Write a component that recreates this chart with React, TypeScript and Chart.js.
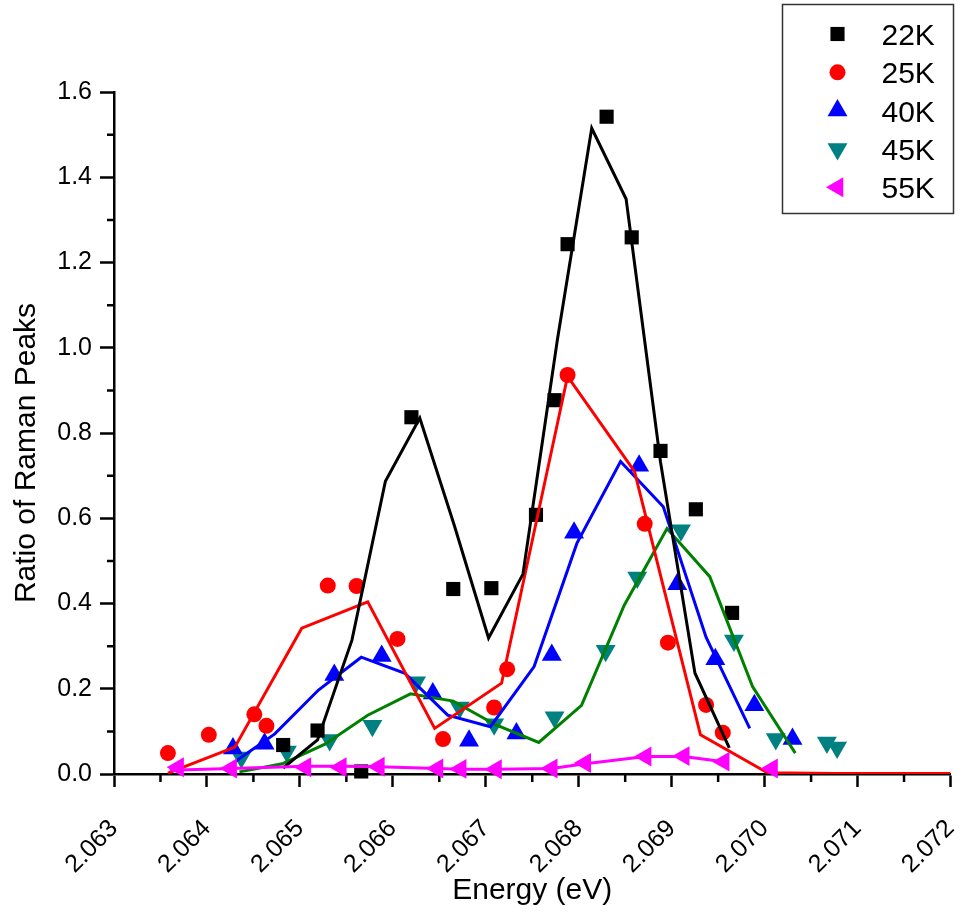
import React, { useEffect, useRef } from 'react';
import { Chart, registerables } from 'chart.js';

Chart.register(...registerables);

const FONT = '"Liberation Sans", Arial, Helvetica, sans-serif';

const seriesLabels = ['22K', '25K', '40K', '45K', '55K'];

// 22K
const x22 = [2.06482, 2.06519, 2.06566, 2.0662, 2.06665, 2.06706, 2.06754, 2.06774, 2.06788, 2.0683, 2.06857, 2.06888, 2.06926, 2.06965];
const y22 = [0.068, 0.102, 0.006, 0.837, 0.434, 0.436, 0.608, 0.877, 1.243, 1.542, 1.259, 0.758, 0.621, 0.378];
const fitX22 = [2.06482, 2.06519, 2.06556, 2.06592, 2.06629, 2.06666, 2.06703, 2.0674, 2.06777, 2.06814, 2.06851, 2.06888, 2.06925, 2.06962];
const fitY22 = [0.014, 0.08, 0.314, 0.687, 0.835, 0.584, 0.319, 0.469, 1.018, 1.515, 1.349, 0.732, 0.237, 0.061];

// 25K
const x25 = [2.06358, 2.06402, 2.06451, 2.06464, 2.0653, 2.06561, 2.06605, 2.06654, 2.06709, 2.06723, 2.06788, 2.06871, 2.06896, 2.06937, 2.06955];
const y25 = [0.049, 0.092, 0.14, 0.113, 0.442, 0.441, 0.317, 0.082, 0.156, 0.246, 0.936, 0.587, 0.308, 0.162, 0.097];
const fitX25 = [2.06358, 2.0643, 2.06502, 2.06573, 2.06645, 2.06717, 2.06788, 2.0686, 2.06931, 2.07003, 2.07075, 2.07146, 2.072];
const fitY25 = [0.002, 0.063, 0.342, 0.404, 0.107, 0.213, 0.933, 0.71, 0.092, 0.003, 0.001, 0.001, 0.001];

// 40K
const x40 = [2.06428, 2.06462, 2.06537, 2.06588, 2.06643, 2.06682, 2.06733, 2.06771, 2.06795, 2.06865, 2.06906, 2.06947, 2.06989, 2.0703];
const y40 = [0.06, 0.071, 0.232, 0.277, 0.189, 0.078, 0.095, 0.279, 0.566, 0.723, 0.445, 0.269, 0.161, 0.082];
const fitX40 = [2.06427, 2.06473, 2.0652, 2.06566, 2.06613, 2.06659, 2.06705, 2.06752, 2.06798, 2.06845, 2.06891, 2.06937, 2.06984];
const fitY40 = [0.024, 0.094, 0.197, 0.274, 0.236, 0.138, 0.111, 0.252, 0.541, 0.733, 0.627, 0.321, 0.107];

// 45K
const x45 = [2.06437, 2.06486, 2.06532, 2.06578, 2.06625, 2.06672, 2.06709, 2.06774, 2.06829, 2.06863, 2.0691, 2.06967, 2.07012, 2.07067, 2.07078];
const y45 = [0.039, 0.053, 0.08, 0.113, 0.215, 0.156, 0.117, 0.133, 0.289, 0.461, 0.572, 0.313, 0.082, 0.074, 0.062];
const fitX45 = [2.06435, 2.06481, 2.06527, 2.06573, 2.06619, 2.06665, 2.06711, 2.06757, 2.06803, 2.06849, 2.06895, 2.06941, 2.06987, 2.07033];
const fitY45 = [0.005, 0.024, 0.07, 0.138, 0.188, 0.171, 0.115, 0.074, 0.161, 0.396, 0.576, 0.463, 0.205, 0.049];

// 55K
const x55 = [2.06369, 2.06426, 2.06506, 2.06544, 2.06585, 2.06648, 2.06673, 2.06711, 2.06771, 2.06807, 2.06872, 2.06913, 2.06956, 2.07008];
const y55 = [0.016, 0.013, 0.016, 0.016, 0.017, 0.013, 0.012, 0.011, 0.013, 0.026, 0.041, 0.042, 0.029, 0.013];
const fitX55 = [2.0636, 2.06426, 2.06506, 2.06544, 2.06585, 2.06648, 2.06673, 2.06711, 2.06771, 2.06807, 2.06872, 2.06913, 2.06956];
const fitY55 = [0.009, 0.013, 0.018, 0.018, 0.017, 0.013, 0.011, 0.011, 0.013, 0.024, 0.041, 0.041, 0.029];

// axis ticks
const xMinorTicks = [2.0635, 2.0645, 2.0655, 2.0665, 2.0675, 2.0685, 2.0695, 2.0705, 2.0715];
const yMinorTicks = [0.1, 0.3, 0.5, 0.7, 0.9, 1.1, 1.3, 1.5];

const markerColors = ['#000000', '#FF0000', '#0000FF', '#008080', '#FF00FF'];
const lineColors = ['#000000', '#FF0000', '#0000FF', '#008000', '#FF00FF'];
const markerStyles = ['rect', 'circle', 'triangle', 'triangle', 'triangle'];
const markerRotations = [0, 0, 0, 180, 270];
const markerRadii = [10, 8, 11.5, 11.5, 11.5];

const markerXs = [x22, x25, x40, x45, x55];
const markerYs = [y22, y25, y40, y45, y55];
const fitXs = [fitX22, fitX25, fitX40, fitX45, fitX55];
const fitYs = [fitY22, fitY25, fitY40, fitY45, fitY55];

const pts = (xs: number[], ys: number[]) => xs.map((x, i) => ({ x, y: ys[i] }));

function drawMarker(ctx: CanvasRenderingContext2D, style: string, rot: number, r: number, x: number, y: number) {
  ctx.beginPath();
  if (style === 'rect') {
    const s = Math.SQRT1_2 * r;
    ctx.rect(x - s, y - s, 2 * s, 2 * s);
  } else if (style === 'circle') {
    ctx.arc(x, y, r, 0, Math.PI * 2);
  } else {
    let a = (rot * Math.PI) / 180;
    for (let k = 0; k < 3; k++) {
      const px = x + Math.sin(a) * r;
      const py = y - Math.cos(a) * r;
      if (k === 0) ctx.moveTo(px, py);
      else ctx.lineTo(px, py);
      a += (2 * Math.PI) / 3;
    }
  }
  ctx.closePath();
  ctx.fill();
}

const decorPlugin = {
  id: 'decor',
  beforeDatasetsDraw(chart: any) {
    const ctx: CanvasRenderingContext2D = chart.ctx;
    const xs = chart.scales.x;
    const ys = chart.scales.y;
    const area = chart.chartArea;
    ctx.save();
    ctx.strokeStyle = '#000';
    ctx.lineWidth = 2.5;
    ctx.beginPath();
    for (const v of xMinorTicks) {
      const px = xs.getPixelForValue(v);
      ctx.moveTo(px, area.bottom);
      ctx.lineTo(px, area.bottom + 8);
    }
    for (const v of yMinorTicks) {
      const py = ys.getPixelForValue(v);
      ctx.moveTo(area.left, py);
      ctx.lineTo(area.left - 7, py);
    }
    ctx.stroke();
    ctx.restore();
  },
  afterDraw(chart: any) {
    const ctx: CanvasRenderingContext2D = chart.ctx;
    ctx.save();
    // y axis title
    ctx.fillStyle = '#000';
    ctx.font = `30px ${FONT}`;
    ctx.textAlign = 'center';
    ctx.textBaseline = 'alphabetic';
    ctx.translate(35, 453);
    ctx.rotate(-Math.PI / 2);
    ctx.fillText('Ratio of Raman Peaks', 0, 0);
    ctx.restore();

    // legend
    ctx.save();
    ctx.fillStyle = '#FFFFFF';
    ctx.fillRect(782.5, 4.5, 171, 209);
    ctx.strokeStyle = '#333333';
    ctx.lineWidth = 1.5;
    ctx.strokeRect(782.5, 4.5, 171, 209);
    const markers = chart.data.datasets.filter((d: any) => d.isMarker);
    markers.sort((a: any, b: any) => a.seriesIndex - b.seriesIndex);
    markers.forEach((d: any, i: number) => {
      const rowY = 34 + i * 38.3;
      ctx.fillStyle = d.pointBackgroundColor;
      drawMarker(ctx, d.pointStyle, d.pointRotation, d.pointRadius, 837.5, rowY);
      ctx.fillStyle = '#000';
      ctx.font = `30px ${FONT}`;
      ctx.textAlign = 'left';
      ctx.textBaseline = 'alphabetic';
      ctx.fillText(d.label, 881.5, rowY + 11);
    });
    ctx.restore();
  },
};

export default function App() {
  const canvasRef = useRef<HTMLCanvasElement | null>(null);

  useEffect(() => {
    if (!canvasRef.current) return;
    const datasets: any[] = [];
    seriesLabels.forEach((label, i) => {
      const isTop = i === 4;
      datasets.push({
        label,
        isMarker: true,
        seriesIndex: i,
        data: pts(markerXs[i], markerYs[i]),
        showLine: false,
        pointStyle: markerStyles[i],
        pointRotation: markerRotations[i],
        pointRadius: markerRadii[i],
        pointBackgroundColor: markerColors[i],
        pointBorderColor: markerColors[i],
        pointBorderWidth: 0,
        pointHoverRadius: markerRadii[i],
        order: isTop ? 0 : 6 + i,
        clip: false,
      });
      datasets.push({
        label: label + ' fit',
        isMarker: false,
        seriesIndex: i,
        data: pts(fitXs[i], fitYs[i]),
        showLine: true,
        borderColor: lineColors[i],
        backgroundColor: lineColors[i],
        borderWidth: 3,
        pointRadius: 0,
        pointHoverRadius: 0,
        tension: 0,
        fill: false,
        order: isTop ? 1 : 2 + i,
      });
    });

    const chart = new Chart(canvasRef.current, {
      type: 'scatter',
      data: { datasets },
      plugins: [decorPlugin],
      options: {
        animation: false,
        responsive: false,
        events: [],
        layout: { padding: { left: 0, top: 92, right: 10, bottom: 0 } },
        plugins: {
          legend: { display: false },
          tooltip: { enabled: false },
        },
        scales: {
          x: {
            type: 'linear',
            min: 2.063,
            max: 2.072,
            afterFit: (scale: any) => {
              scale.height = 140;
              scale.paddingLeft = 0;
              scale.paddingRight = 0;
            },
            ticks: {
              stepSize: 0.001,
              autoSkip: false,
              minRotation: 45,
              maxRotation: 45,
              padding: 27,
              color: '#000',
              font: { family: FONT, size: 25 },
              callback: (v: any) => Number(v).toFixed(3),
            },
            grid: {
              display: true,
              drawOnChartArea: false,
              drawTicks: true,
              tickLength: 13,
              tickWidth: 2.5,
              tickColor: '#000',
            },
            border: { display: true, color: '#000', width: 2.5 },
            title: {
              display: true,
              text: 'Energy (eV)',
              color: '#000',
              font: { family: FONT, size: 30 },
              padding: { top: 0, bottom: 5 },
            },
          },
          y: {
            type: 'linear',
            min: 0,
            max: 1.6,
            afterFit: (scale: any) => {
              scale.width = 114;
              scale.paddingTop = 0;
              scale.paddingBottom = 0;
            },
            ticks: {
              stepSize: 0.2,
              padding: 8,
              color: '#000',
              font: { family: FONT, size: 25 },
              callback: (v: any) => Number(v).toFixed(1),
            },
            grid: {
              display: true,
              drawOnChartArea: false,
              drawTicks: true,
              tickLength: 14,
              tickWidth: 2.5,
              tickColor: '#000',
            },
            border: { display: true, color: '#000', width: 2.5 },
          },
        },
      } as any,
    });
    return () => chart.destroy();
  }, []);

  return (
    <div style={{ position: 'absolute', left: 0, top: 0, width: 962, height: 914, background: '#fff' }}>
      <canvas ref={canvasRef} width={962} height={914} style={{ display: 'block' }} />
    </div>
  );
}
